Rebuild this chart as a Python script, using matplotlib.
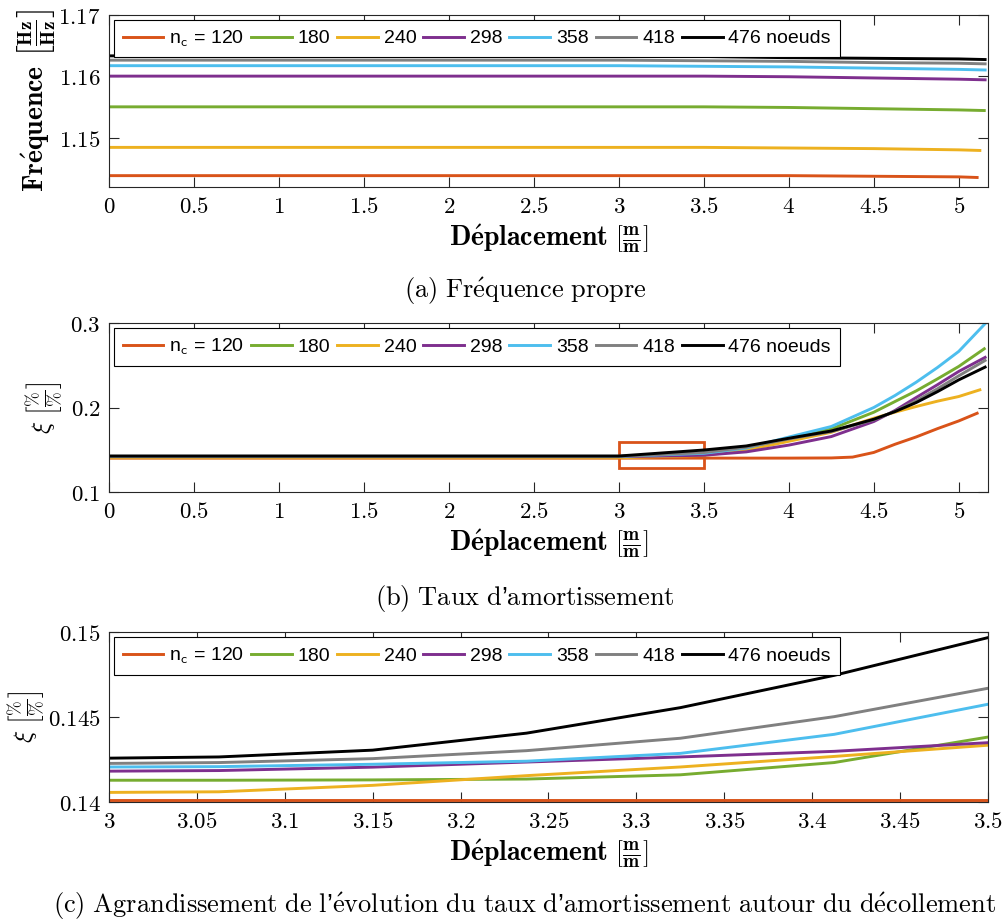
import numpy as np
import matplotlib
matplotlib.use("Agg")
import matplotlib.pyplot as plt
from matplotlib.ticker import FuncFormatter, FixedLocator
from matplotlib.patches import Rectangle

plt.rcParams['mathtext.fontset'] = 'cm'
plt.rcParams['font.family'] = ['Liberation Sans', 'DejaVu Sans']

labels = [r"n$_{\mathsf{c}}$ = 120", "180", "240", "298", "358", "418", "476 noeuds"]
colors = ["#D95319", "#77AC30", "#EDB120", "#7E2F8E", "#4DBEEE", "#808080", "#000000"]

# ---- panel (a): natural frequency ----
xa = {
    "120": [0, 3, 3.5, 4, 4.5, 5, 5.108],
    "180": [0, 3, 3.5, 4, 4.5, 5, 5.15],
    "240": [0, 3, 3.5, 4, 4.5, 5, 5.124],
    "298": [0, 3, 3.5, 4, 4.5, 5, 5.155],
    "358": [0, 3, 3.5, 4, 4.5, 5, 5.155],
    "418": [0, 3, 3.5, 4, 4.5, 5, 5.155],
    "476": [0, 3, 3.5, 4, 4.5, 5, 5.155],
}
freq = {
    "120": [1.1438, 1.1438, 1.1438, 1.1438, 1.1437, 1.1436, 1.1435],
    "180": [1.1550, 1.1550, 1.1550, 1.1549, 1.1547, 1.1545, 1.1544],
    "240": [1.1484, 1.1484, 1.1484, 1.1483, 1.1482, 1.1480, 1.1479],
    "298": [1.1600, 1.1600, 1.1600, 1.1599, 1.1597, 1.1595, 1.1594],
    "358": [1.1617, 1.1617, 1.1616, 1.1615, 1.1613, 1.1611, 1.1610],
    "418": [1.1626, 1.1626, 1.1625, 1.1624, 1.1622, 1.1621, 1.1620],
    "476": [1.1633, 1.1633, 1.1632, 1.1630, 1.1629, 1.1628, 1.1627],
}

# ---- panel (b): damping ratio ----
xb_common = [0, 3, 3.5, 3.75, 4, 4.25, 4.5, 4.625, 4.75, 4.875, 5]
xb = {
    "120": [0, 3, 3.5, 3.75, 4, 4.25, 4.375, 4.5, 4.625, 4.75, 4.875, 5, 5.108],
    "180": xb_common + [5.15],
    "240": xb_common + [5.124],
    "298": xb_common + [5.155],
    "358": xb_common + [5.155],
    "418": xb_common + [5.155],
    "476": xb_common + [5.155],
}
xi_b = {
    "120": [0.1401, 0.1401, 0.1401, 0.1401, 0.1401, 0.1403, 0.1413, 0.1468, 0.1565, 0.1652, 0.1750, 0.1841, 0.1932],
    "180": [0.1413, 0.1413, 0.1438, 0.1505, 0.1625, 0.1746, 0.1944, 0.2071, 0.2197, 0.2339, 0.2486, 0.2695],
    "240": [0.1405, 0.1405, 0.1433, 0.1495, 0.1600, 0.1707, 0.1873, 0.1945, 0.2012, 0.2075, 0.2130, 0.2209],
    "298": [0.1418, 0.1418, 0.1435, 0.1475, 0.1555, 0.1656, 0.1834, 0.1965, 0.2119, 0.2270, 0.2427, 0.2593],
    "358": [0.1421, 0.1421, 0.1458, 0.1520, 0.1650, 0.1775, 0.2000, 0.2142, 0.2300, 0.2474, 0.2664, 0.2992],
    "418": [0.1422, 0.1422, 0.1467, 0.1530, 0.1628, 0.1715, 0.1855, 0.1955, 0.2080, 0.2222, 0.2375, 0.2557],
    "476": [0.1426, 0.1426, 0.1497, 0.1545, 0.1636, 0.1722, 0.1861, 0.1952, 0.2059, 0.2188, 0.2327, 0.2478],
}

# ---- panel (c): zoom 3 .. 3.5 ----
xc = [2.975, 3.0625, 3.15, 3.2375, 3.325, 3.4125, 3.5]
xi_c = {
    "120": [0.14012, 0.14012, 0.14012, 0.14012, 0.14012, 0.14012, 0.14012],
    "180": [0.14128, 0.14128, 0.14130, 0.14135, 0.14160, 0.14232, 0.14382],
    "240": [0.14055, 0.14060, 0.14098, 0.14155, 0.14206, 0.14268, 0.14334],
    "298": [0.14180, 0.14185, 0.14205, 0.14235, 0.14265, 0.14298, 0.14349],
    "358": [0.14205, 0.14208, 0.14222, 0.14240, 0.14286, 0.14398, 0.14575],
    "418": [0.14225, 0.14232, 0.14255, 0.14302, 0.14375, 0.14502, 0.14669],
    "476": [0.14255, 0.14265, 0.14305, 0.14405, 0.14555, 0.14745, 0.14967],
}
keys = ["120", "180", "240", "298", "358", "418", "476"]

fig = plt.figure(figsize=(10.05, 9.23), dpi=100)
W, H = 1005, 923
AXL, AXR = 109, 988
def ax_at(l, t, r, b):
    return fig.add_axes([l / W, 1 - b / H, (r - l) / W, (b - t) / H])

axa = ax_at(AXL, 14.7, AXR, 186.7)
axb = ax_at(AXL, 323, AXR, 492)
axc = ax_at(AXL, 632, AXR, 802)

fmt = FuncFormatter(lambda v, p: r"$%s$" % ("%g" % round(v, 6)))
TICKFS = 16.5
LW = 2.1
XLAB = r"$\mathbf{D\acute{e}placement}\ \left[\frac{\mathbf{m}}{\mathbf{m}}\right]$"

def style(ax):
    for s in ax.spines.values():
        s.set_color("#262626")
        s.set_linewidth(0.8)
    ax.tick_params(direction="in", top=True, right=True, length=7, width=0.8,
                   color="#262626", labelsize=TICKFS, pad=6)
    ax.xaxis.set_major_formatter(fmt)
    ax.yaxis.set_major_formatter(fmt)
    ax.set_xlabel(XLAB, fontsize=20, labelpad=3)

def legend(ax):
    ax.legend(ncol=7, loc="upper left", bbox_to_anchor=(0, 1), borderaxespad=0.25,
              fontsize=14, frameon=True, fancybox=False, edgecolor="black",
              framealpha=1, handlelength=2.1, handletextpad=0.3, columnspacing=0.35,
              borderpad=0.45).get_frame().set_linewidth(0.8)

def ylab_x(px):
    return (px - AXL) / (AXR - AXL)

for k, lab, c in zip(keys, labels, colors):
    axa.plot(xa[k], freq[k], color=c, lw=LW, label=lab)
axa.set_xlim(0, 5.172)
axa.set_ylim(1.142, 1.17)
axa.yaxis.set_major_locator(FixedLocator([1.15, 1.16, 1.17]))
axa.xaxis.set_major_locator(FixedLocator(np.arange(0, 5.01, 0.5)))
style(axa)
axa.set_ylabel(r"$\mathbf{Fr\acute{e}quence}\ \left[\frac{\mathbf{Hz}}{\mathbf{Hz}}\right]$",
               fontsize=20)
axa.yaxis.set_label_coords(ylab_x(57), 0.5)
legend(axa)

for k, lab, c in zip(keys, labels, colors):
    axb.plot(xb[k], xi_b[k], color=c, lw=LW, label=lab)
axb.add_patch(Rectangle((3.0, 0.128), 0.5, 0.031, fill=False, edgecolor="#D95319", lw=2.0))
axb.set_xlim(0, 5.172)
axb.set_ylim(0.1, 0.3)
axb.yaxis.set_major_locator(FixedLocator([0.1, 0.2, 0.3]))
axb.xaxis.set_major_locator(FixedLocator(np.arange(0, 5.01, 0.5)))
style(axb)
axb.set_ylabel(r"$\xi\ \left[\frac{\%}{\%}\right]$", fontsize=18)
axb.yaxis.set_label_coords(ylab_x(66), 0.5)
legend(axb)

for k, lab, c in zip(keys, labels, colors):
    axc.plot(xc, xi_c[k], color=c, lw=LW, label=lab)
axc.set_xlim(3, 3.5)
axc.set_ylim(0.14, 0.15)
axc.yaxis.set_major_locator(FixedLocator([0.14, 0.145, 0.15]))
axc.xaxis.set_major_locator(FixedLocator(np.arange(3, 3.501, 0.05)))
style(axc)
axc.set_ylabel(r"$\xi\ \left[\frac{\%}{\%}\right]$", fontsize=18)
axc.yaxis.set_label_coords(ylab_x(48), 0.5)
legend(axc)

CAPFS = 19
fig.text(525 / W, 1 - 291 / H, r"$\mathrm{(a)\ Fr\acute{e}quence\ propre}$",
         ha="center", va="center", fontsize=CAPFS)
fig.text(525 / W, 1 - 598 / H, r"$\mathrm{(b)\ Taux\ d}$’$\mathrm{amortissement}$",
         ha="center", va="center", fontsize=CAPFS)
fig.text(525 / W, 1 - 906 / H,
         r"$\mathrm{(c)\ Agrandissement\ de\ l}$’$\mathrm{\acute{e}volution\ du\ taux\ d}$’$\mathrm{amortissement\ autour\ du\ d\acute{e}collement}$",
         ha="center", va="center", fontsize=CAPFS)

fig.savefig("out.png", dpi=100)
